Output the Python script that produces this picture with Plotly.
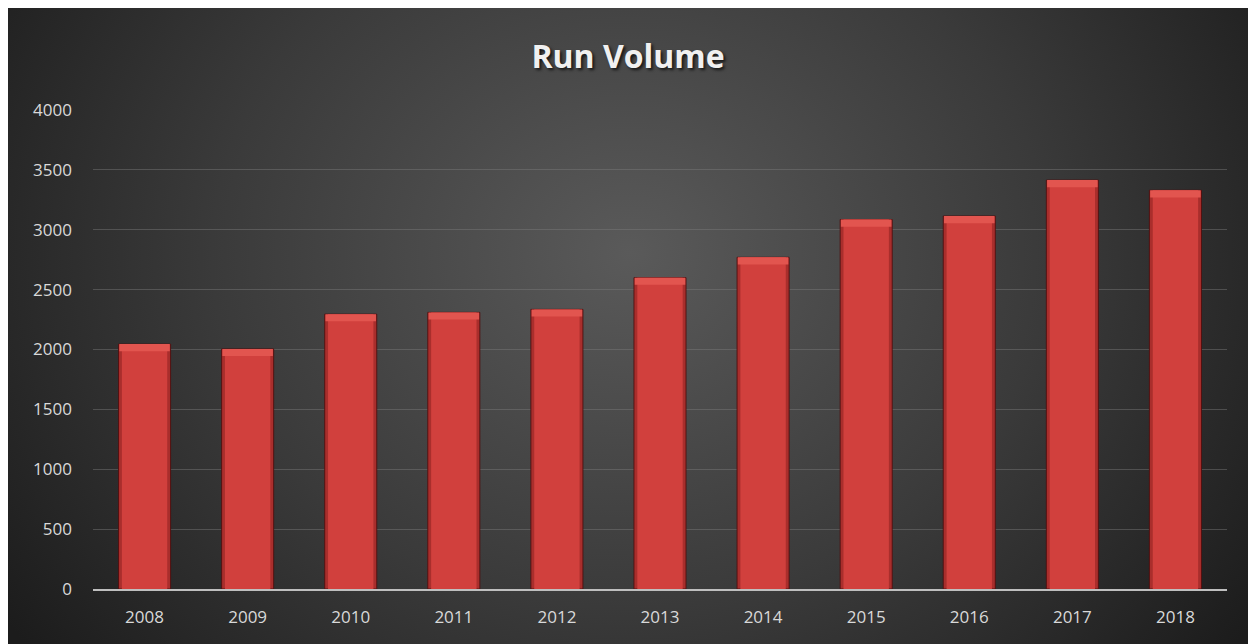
import base64
import plotly.graph_objects as go

years = ["2008", "2009", "2010", "2011", "2012", "2013", "2014", "2015", "2016", "2017", "2018"]
run_volume = [2045, 2005, 2295, 2310, 2335, 2600, 2770, 3085, 3115, 3415, 3330]
y_ticks = [0, 500, 1000, 1500, 2000, 2500, 3000, 3500, 4000]
title_text = "Run Volume"

W, H = 1248, 636
L, R, T, B = 85, 29, 102, 55
pw, ph = W - L - R, H - T - B

svg = f'''<svg xmlns="http://www.w3.org/2000/svg" width="{W}" height="{H}" viewBox="0 0 {W} {H}">
<defs><radialGradient id="g" cx="622" cy="245" r="760" gradientUnits="userSpaceOnUse" gradientTransform="translate(622 245) scale(1 0.85) translate(-622 -245)">
<stop offset="0" stop-color="#5a5a5a"/><stop offset="0.55" stop-color="#3a3a3a"/><stop offset="1" stop-color="#1c1c1c"/></radialGradient></defs>
<rect width="{W}" height="{H}" fill="url(#g)"/></svg>'''
src = "data:image/svg+xml;base64," + base64.b64encode(svg.encode()).decode()

bevel = 60
edge = "rgba(80,15,15,0.9)"
fig = go.Figure()
fig.add_trace(go.Bar(
    x=years, y=run_volume, width=0.505,
    marker=dict(color="#a92e2c", line=dict(color=edge, width=1)),
    hoverinfo="x+y",
))
fig.add_trace(go.Bar(
    x=years, y=run_volume, width=0.44,
    marker=dict(color="#d1403d", line=dict(width=0)),
    hoverinfo="skip",
))
fig.add_trace(go.Bar(
    x=years, y=[bevel] * len(run_volume), base=[v - bevel for v in run_volume],
    width=0.49,
    marker=dict(color="#e2554f", line=dict(width=0)),
    hoverinfo="skip",
))

fig.update_layout(
    width=W, height=H,
    margin=dict(l=L, r=R, t=T, b=B, pad=0),
    paper_bgcolor="#2a2a2a",
    plot_bgcolor="rgba(0,0,0,0)",
    barmode="overlay",
    showlegend=False,
    title=dict(
        text=f"<b>{title_text}</b>", x=620 / W, xanchor="center",
        y=1 - 49 / H, yanchor="middle",
        font=dict(family="Open Sans", size=32, color="#f0f0f0",
                  shadow="2px 2px 3px rgba(0,0,0,0.7)"),
    ),
    font=dict(family="Open Sans", size=16, color="#d9d9d9"),
    images=[dict(
        source=src, xref="paper", yref="paper",
        x=-L / pw, y=(ph + T) / ph,
        sizex=W / pw, sizey=H / ph,
        sizing="stretch", xanchor="left", yanchor="top", layer="below",
    )],
)
fig.update_yaxes(
    range=[0, 4000], tickvals=y_ticks, showgrid=True,
    gridcolor="rgba(125,125,125,0.45)", gridwidth=1,
    zeroline=False, showline=False, ticks="", ticklabelstandoff=20,
    tickfont=dict(size=17, color="#d9d9d9"),
)
fig.update_xaxes(
    showline=True, linecolor="#bfbfbf", linewidth=2, ticks="",
    tickfont=dict(size=17, color="#d9d9d9"), ticklabelstandoff=12,
)

fig.write_html("out.html")
